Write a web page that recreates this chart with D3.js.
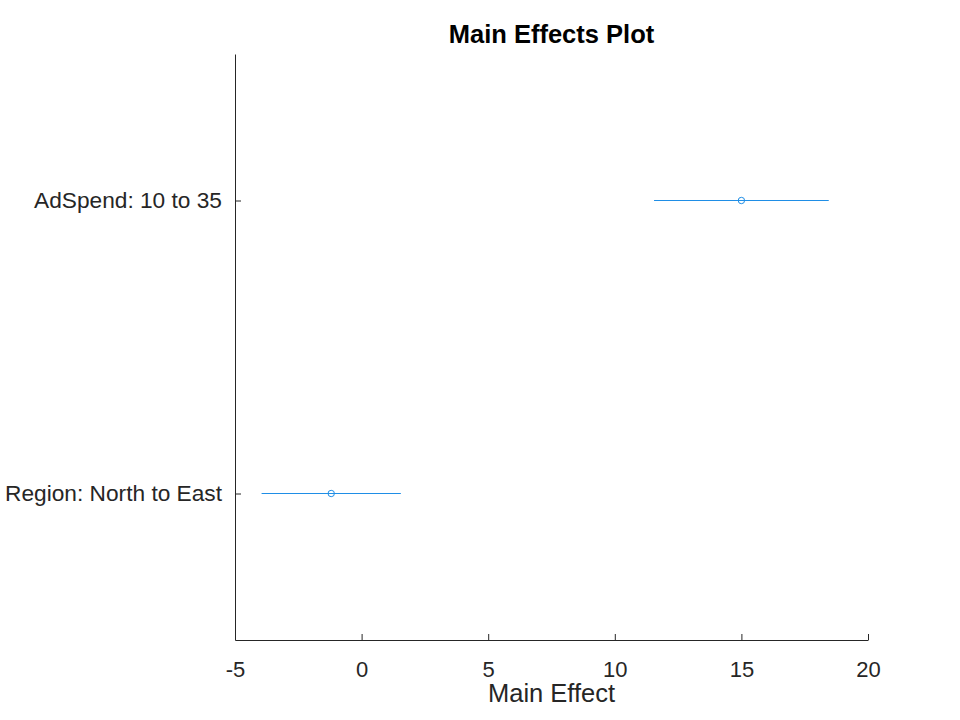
<!DOCTYPE html>
<html>
<head>
<meta charset="utf-8">
<script src="https://cdn.jsdelivr.net/npm/d3@7"></script>
<style>
  body { margin: 0; background: #fff; }
  text { font-family: "Liberation Sans", Arial, sans-serif; }
</style>
</head>
<body>
<svg id="chart"></svg>
<script>
const terms = ["Region: North to East", "AdSpend: 10 to 35"];
const effects = [-1.2, 15.0];
const lower = [-3.95, 11.55];
const upper = [1.55, 18.45];
const xTicks = [-5, 0, 5, 10, 15, 20];

const svgW = 960;
const svgH = 720;
const margin = { top: 54, bottom: 80, left: 235, right: 92 };
const blue = "#1f8ee6";
const ink = "#262626";

const svg = d3.select("#chart").attr("width", svgW).attr("height", svgH);

const x = d3.scaleLinear().domain([-5, 20]).range([margin.left, svgW - margin.right]);
const y = d3.scaleLinear().domain([0.5, terms.length + 0.5]).range([svgH - margin.bottom, margin.top]);

// x axis, ticks pointing inward, plain hyphen for negatives
const xAxis = svg.append("g")
  .attr("transform", `translate(0, ${svgH - margin.bottom})`)
  .call(d3.axisBottom(x).tickValues(xTicks).tickFormat((d) => String(d))
    .tickSizeInner(-6).tickSizeOuter(0).tickPadding(21));
xAxis.select(".domain").attr("stroke", ink);
xAxis.selectAll(".tick line").attr("stroke", ink);
xAxis.selectAll("text").attr("fill", ink).attr("font-size", "22px");

// y axis with term labels
const yAxis = svg.append("g")
  .attr("transform", `translate(${margin.left}, 0)`)
  .call(d3.axisLeft(y).tickValues(terms.map((d, i) => i + 1))
    .tickFormat((d) => terms[d - 1]).tickSizeInner(-6).tickSizeOuter(0).tickPadding(13));
yAxis.select(".domain").attr("stroke", ink);
yAxis.selectAll(".tick line").attr("stroke", ink);
yAxis.selectAll("text").attr("fill", ink).attr("font-size", "22.7px");

// confidence intervals
svg.append("g")
  .selectAll("line")
  .data(effects)
  .join("line")
  .attr("x1", (d, i) => x(lower[i]))
  .attr("x2", (d, i) => x(upper[i]))
  .attr("y1", (d, i) => y(i + 1))
  .attr("y2", (d, i) => y(i + 1))
  .attr("stroke", blue)
  .attr("stroke-width", 1);

// effect markers
svg.append("g")
  .selectAll("circle")
  .data(effects)
  .join("circle")
  .attr("cx", (d) => x(d))
  .attr("cy", (d, i) => y(i + 1))
  .attr("r", 3.2)
  .attr("fill", "none")
  .attr("stroke", blue)
  .attr("stroke-width", 1);

svg.append("text")
  .attr("x", (margin.left + svgW - margin.right) / 2)
  .attr("y", 43)
  .attr("text-anchor", "middle")
  .attr("font-size", "25.5px")
  .attr("font-weight", "bold")
  .attr("fill", "#000")
  .text("Main Effects Plot");

svg.append("text")
  .attr("x", (margin.left + svgW - margin.right) / 2)
  .attr("y", 702)
  .attr("text-anchor", "middle")
  .attr("font-size", "25.5px")
  .attr("fill", ink)
  .text("Main Effect");
</script>
</body>
</html>
